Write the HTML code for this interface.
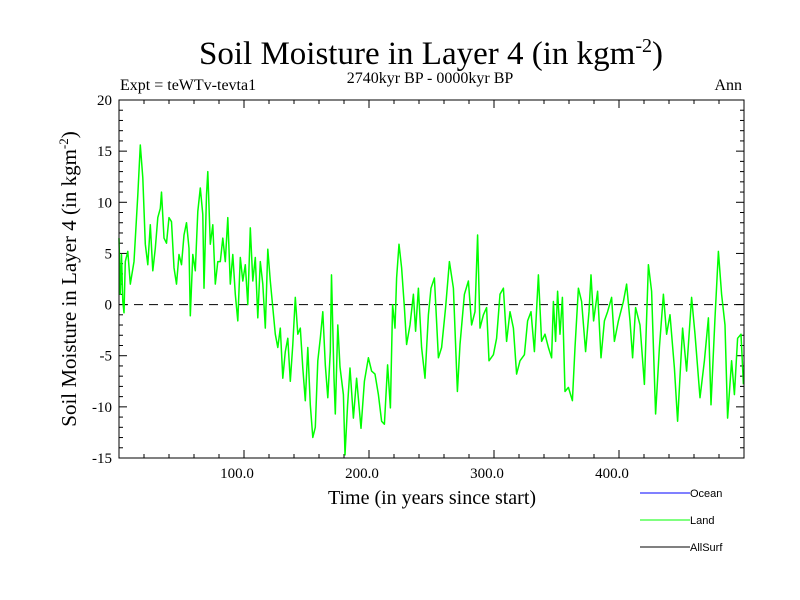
<!DOCTYPE html>
<html><head><meta charset="utf-8">
<style>
body{margin:0;background:#fff;}
svg{display:block;font-family:"Liberation Serif",serif;}
</style></head>
<body>
<svg id="chart" width="800" height="600" viewBox="0 0 800 600">
<text x="431" y="64" text-anchor="middle" font-size="33">Soil Moisture in Layer 4 (in kgm<tspan dy="-12" font-size="20">-2</tspan><tspan dy="12">)</tspan></text>
<text x="120" y="90" font-size="16">Expt = teWTv-tevta1</text>
<text x="430" y="83" text-anchor="middle" font-size="16">2740kyr BP - 0000kyr BP</text>
<text x="742" y="90" text-anchor="end" font-size="16">Ann</text>
<text transform="translate(76,279) rotate(-90)" text-anchor="middle" font-size="21">Soil Moisture in Layer 4 (in kgm<tspan dy="-8" font-size="13">-2</tspan><tspan dy="8">)</tspan></text>
<text x="432" y="504" text-anchor="middle" font-size="20">Time (in years since start)</text>
<g id="axes"></g>
<g id="series"></g>
<rect x="119" y="100" width="625" height="358" fill="none" stroke="#000" stroke-width="1"/>
<g font-family="Liberation Sans, sans-serif" font-size="11">
<line x1="640" y1="493" x2="690" y2="493" stroke="#0000ff"/>
<text x="690" y="497">Ocean</text>
<line x1="640" y1="520" x2="690" y2="520" stroke="#00ff00"/>
<text x="690" y="524">Land</text>
<line x1="640" y1="547" x2="690" y2="547" stroke="#000"/>
<text x="690" y="551">AllSurf</text>
</g>
</svg>
<script>
const years = [0,1,2,3,4,5,7,9,12,15,17,19,21,23,25,27,29,31,33,34,36,38,40,42,44,46,48,50,52,54,56,57,59,61,63,65,67,68,70,71,73,75,77,79,81,83,85,87,89,91,93,95,97,99,101,103,105,107,109,111,113,115,117,119,121,123,125,127,129,131,133,135,137,139,141,143,145,147,149,151,153,155,157,159,161,163,165,167,169,170,172,173,175,176.8,179.5,180.8,182.9,184.8,187.5,190.1,193.6,196.3,199.5,202.1,204.8,207.5,210.1,212.3,214.9,217.1,218.9,220.8,222.1,224,226.1,228.3,230.1,232.8,235.5,237.3,239.5,242.1,244.8,247.5,249.6,252.3,255.5,258.1,261.3,264.3,267.5,270.7,272.8,276.3,279.5,282.1,284.8,286.9,288.8,291.5,294.1,296,299.5,302.1,304.8,307.5,310.1,312.8,315.5,318.1,320.8,324.3,326.9,329.6,332.3,335.5,338.1,340.8,343.5,346.1,347.5,349.3,350.9,352.8,354.7,356.8,359.5,362.7,364.8,367.5,370.1,373.3,376,377.6,379.7,382.9,385.6,388.3,390.9,394.1,396.3,399.5,403.5,406.1,408.8,410.9,413.3,416.8,420.3,423.5,426.1,429.3,432.3,435.5,438.1,440.8,444.3,446.9,450.9,454.1,458.1,460.8,464.8,468.3,471.5,473.6,476.8,479.5,482.1,484.8,486.9,490.1,492.3,494.9,497.6,499.5];
const landValues = [6.5,1,4.9,0.3,-0.8,4.2,5.2,2,4.2,10.7,15.6,12.4,5.9,3.9,7.8,3.3,5.5,8.5,9.4,11,6.5,6,8.5,8.1,3.6,2,4.9,3.9,6.8,8,5.5,-1.1,4.9,3.3,9.1,11.4,8.8,1.6,10.7,13,5.9,7.8,2,4.2,4.2,6.5,4.2,8.5,2,4.9,1,-1.6,4.6,2.3,3.9,0,7.5,2.3,4.6,-1.3,4.2,2,-2.3,5.4,2.3,-0.3,-2.9,-4.2,-2.3,-7.2,-4.6,-3.3,-7.5,-3.9,0.7,-2.9,-2.3,-6.2,-9.4,-4.2,-9.8,-13,-12,-5.5,-3.3,-0.7,-5.9,-9.1,-4.6,2.9,-7.2,-10.7,-2,-6.1,-8.8,-14.7,-9.8,-6.2,-11.1,-7.2,-12.1,-7.5,-5.2,-6.5,-6.8,-8.8,-11.4,-11.7,-5.9,-10.1,0,-2.3,2.6,5.9,3.6,-0.3,-3.9,-2,1,-2.6,1.6,-4.2,-7.2,-1,1.6,2.6,-5.2,-4.2,-0.3,4.2,1.6,-8.5,-3.9,1,2.3,-2,-0.7,6.8,-2.3,-1,-0.3,-5.5,-4.9,-3.3,1,1.6,-3.6,-0.7,-2.3,-6.8,-5.5,-4.9,-1.6,-0.7,-4.6,2.9,-3.6,-2.9,-4.2,-5.2,0.3,-3.6,1.3,-2.9,0.7,-8.5,-8.1,-9.4,-4.2,1.6,0.3,-4.6,-0.7,2.9,-1.6,1.3,-5.2,-1.6,-0.7,0.7,-3.6,-1.6,0.3,2,-1.6,-5.2,-0.3,-2,-7.8,3.9,1.3,-10.7,-4.2,1,-2.9,-1,-6.2,-11.4,-2.3,-6.5,0.7,-2.9,-9.1,-5.5,-1.3,-9.8,-1.3,5.2,1,-2,-11.1,-5.5,-8.8,-3.3,-2.9,-7.8];
const yTickValues = [-15,-10,-5,0,5,10,15,20];
const xTickValues = [100,200,300,400];
const xTickLabels = ["100.0","200.0","300.0","400.0"];

const X0=119, X1=744, Y0=458, Y1=100, XMIN=0, XMAX=500, YMIN=-15, YMAX=20;
const sx = v => X0 + (v-XMIN)/(XMAX-XMIN)*(X1-X0);
const sy = v => Y0 - (v-YMIN)/(YMAX-YMIN)*(Y0-Y1);
const NS='http://www.w3.org/2000/svg';
const axes=document.getElementById('axes');
function mk(tag, attrs, parent){const e=document.createElementNS(NS,tag);for(const k in attrs)e.setAttribute(k,attrs[k]);parent.appendChild(e);return e;}

for(let v=YMIN; v<=YMAX; v++){
  const y=sy(v), len=(v%5===0)?8:4;
  const t1=mk('line',{x1:X0,y1:y,x2:X0+len,y2:y,stroke:'#000'},axes);
  
  
  const t2=mk('line',{x1:X1,y1:y,x2:X1-len,y2:y,stroke:'#000'},axes);
  
  
}
yTickValues.forEach(v=>{
  const t=mk('text',{x:112,y:sy(v)+5,'text-anchor':'end','font-size':15},axes);
  t.textContent=v;
  
  
});
for(let v=20; v<XMAX; v+=20){
  const x=sx(v), len=(v%100===0)?8:4;
  const t1=mk('line',{x1:x,y1:Y0,x2:x,y2:Y0-len,stroke:'#000'},axes);
  
  
  const t2=mk('line',{x1:x,y1:Y1,x2:x,y2:Y1+len,stroke:'#000'},axes);
  
  
}
xTickValues.forEach((v,i)=>{
  const t=mk('text',{x:sx(v)-7,y:478,'text-anchor':'middle','font-size':15},axes);
  t.textContent=xTickLabels[i];
  
  
});
const zl=mk('line',{x1:X0,y1:sy(0),x2:X1,y2:sy(0),stroke:'#000','stroke-dasharray':'9,6'},axes);



const series=document.getElementById('series');
const pts=years.map((yr,i)=>sx(yr).toFixed(1)+','+sy(landValues[i]).toFixed(1)).join(' ');
const pl=mk('polyline',{points:pts,fill:'none',stroke:'#00ff00','stroke-width':1.5,'stroke-linejoin':'round'},series);


</script>
</body></html>
